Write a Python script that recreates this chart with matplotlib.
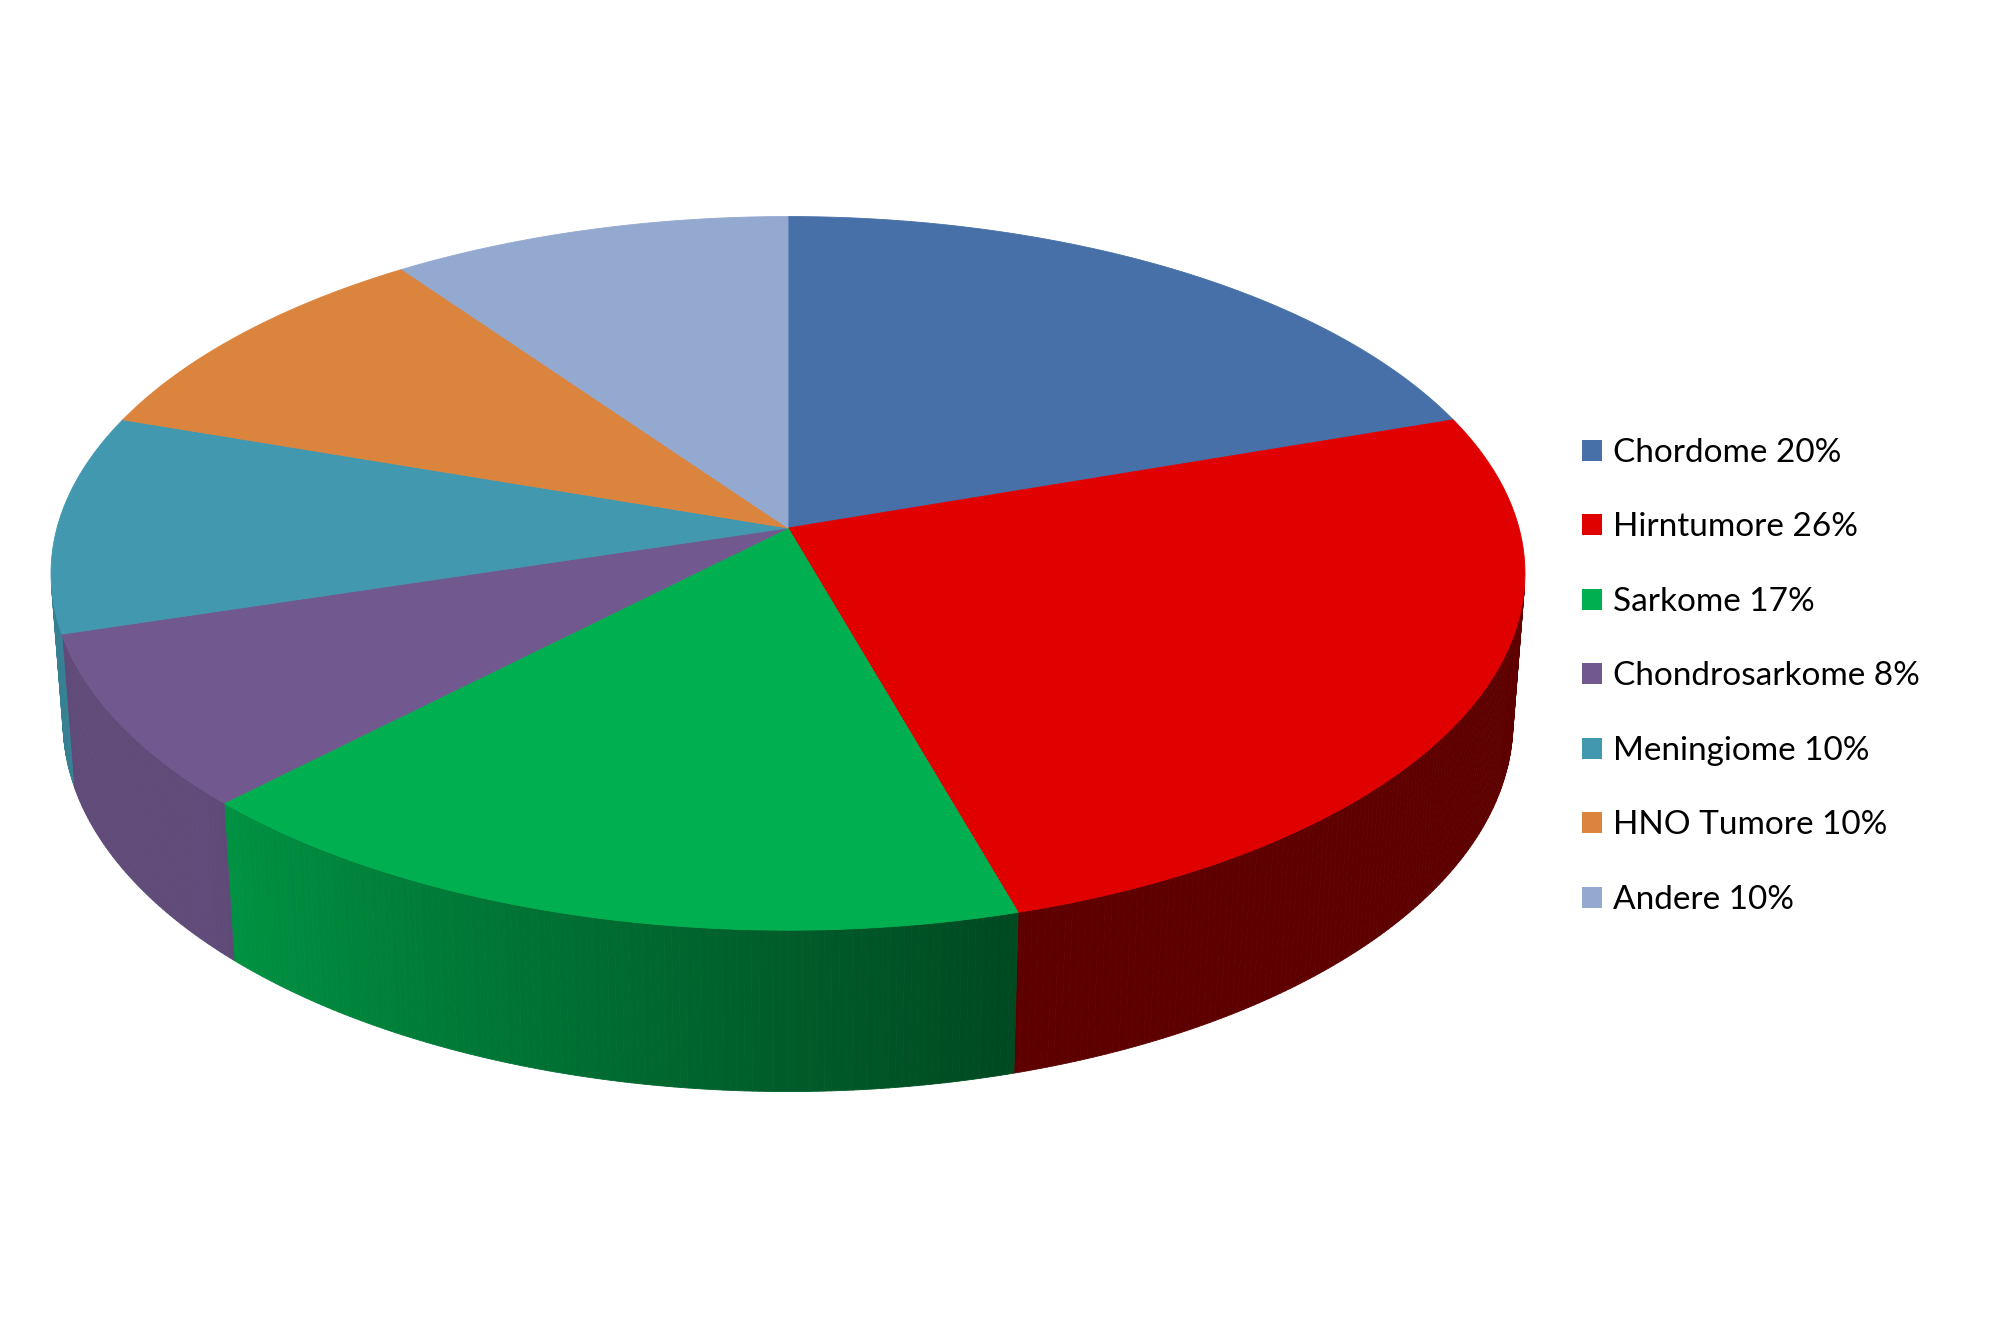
import numpy as np
import matplotlib.pyplot as plt
import matplotlib.colors as mcolors
from matplotlib.collections import PolyCollection
from matplotlib.patches import Patch, Polygon

# Daten
names = ['Chordome', 'Hirntumore', 'Sarkome', 'Chondrosarkome',
         'Meningiome', 'HNO Tumore', 'Andere']
values = [20, 26, 17, 8, 10, 10, 10]
colors = ['#4670A7', '#E00000', '#00B050', '#71588F',
          '#4198AF', '#DB843D', '#93A9CF']

# Kamera / Perspektive (Pixelkoordinaten des Bildes)
CX, CY = 788, 528      # Mittelpunkt der Torte
S = 731                # Radius in Pixel
PHI = np.radians(28.7) # Blickwinkel von oben
D = 6.9                # Kameraabstand (in Radien)
H = 0.234              # Dicke der Torte


def project(x, y, z):
    pf = y * np.cos(PHI) - z * np.sin(PHI)
    pu = y * np.sin(PHI) + z * np.cos(PHI)
    k = D / (D + pf)
    return CX + S * x * k, CY - S * pu * k


def rim(theta, z=0.0):
    return project(np.cos(theta), np.sin(theta), z)


def shade(color, deg):
    # Seitenflaechen: links heller, rechts dunkler
    f = np.interp(deg, [-200, -137, -75, 0], [0.84, 0.85, 0.42, 0.42])
    r, g, b = mcolors.to_rgb(color)
    return (r * f, g * f, b * f)


fig = plt.figure(figsize=(20, 13.33), dpi=100)
ax = fig.add_axes([0, 0, 1, 1])
ax.set_xlim(0, 2000)
ax.set_ylim(1333, 0)
ax.axis('off')

fr = np.array(values, dtype=float) / sum(values)
edges = 90 - 360 * np.concatenate([[0], np.cumsum(fr)])
limit = -1.0 / (D * np.cos(PHI))

# Seitenwand (nur sichtbarer Teil)
quads, qcols = [], []
for i in range(len(values)):
    a0, a1 = edges[i], edges[i + 1]
    steps = max(int((a0 - a1) / 0.5), 2)
    t = np.linspace(a0, a1, steps + 1)
    for ta, tb in zip(t[:-1], t[1:]):
        tm = np.radians((ta + tb) / 2)
        if np.sin(tm) >= limit:
            continue
        ra, rb = np.radians(ta), np.radians(tb)
        p1 = rim(ra)
        p2 = rim(rb)
        p3 = rim(rb, -H)
        p4 = rim(ra, -H)
        quads.append([p1, p2, p3, p4])
        qcols.append(shade(colors[i], (ta + tb) / 2))
ax.add_collection(PolyCollection(quads, facecolors=qcols, edgecolors=qcols,
                                 linewidths=0.6))

# Oberseite
apex = project(0, 0, 0)
for i in range(len(values)):
    t = np.radians(np.linspace(edges[i], edges[i + 1], 200))
    xs, ys = rim(t)
    pts = np.column_stack([np.r_[apex[0], xs], np.r_[apex[1], ys]])
    ax.add_patch(Polygon(pts, closed=True, facecolor=colors[i],
                         edgecolor=colors[i], linewidth=0.6))

handles = [Patch(facecolor=c, edgecolor='none') for c in colors]
labels = [f"{n} {v}%" for n, v in zip(names, values)]
ax.legend(handles, labels, loc='upper left', bbox_to_anchor=(0.776, 0.694),
          frameon=False, labelspacing=1.335,
          handlelength=0.6, handleheight=0.6, handletextpad=0.34,
          prop={'family': 'Lato', 'size': 24})

fig.savefig('out.png', dpi=100, facecolor='white')
